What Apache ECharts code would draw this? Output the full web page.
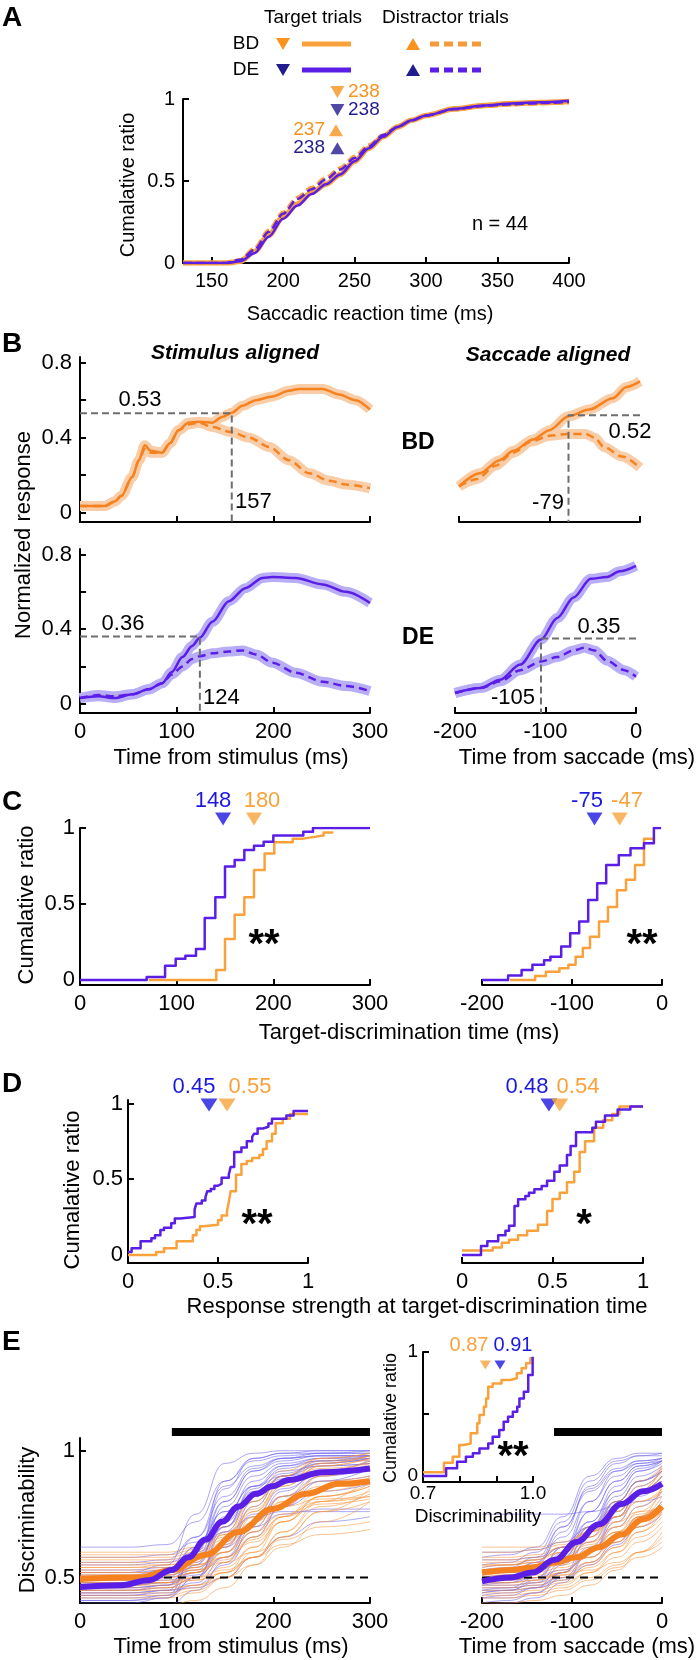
<!DOCTYPE html>
<html><head><meta charset="utf-8">
<script src="https://cdn.jsdelivr.net/npm/echarts@6/dist/echarts.min.js"></script>
<style>html,body{margin:0;padding:0;background:#fff}#c{width:696px;height:1660px}</style>
</head><body><div id="c"></div>
<script>
// ================= DATA =================
// Panel A: cumulative distributions of saccadic reaction time
const rtX = [130,150,160,170,180,190,200,210,220,230,240,250,260,270,280,290,300,320,340,360,380,400];
const rtBDTarget = [0,0,0,0.01,0.07,0.17,0.28,0.36,0.43,0.48,0.54,0.62,0.7,0.77,0.83,0.87,0.9,0.94,0.96,0.972,0.978,0.985];
const rtDETarget = [0,0,0,0.01,0.06,0.16,0.27,0.35,0.42,0.48,0.54,0.62,0.7,0.77,0.83,0.87,0.9,0.94,0.96,0.973,0.98,0.99];
const rtBDDistr  = [0,0,0,0.02,0.09,0.2,0.31,0.4,0.46,0.52,0.58,0.65,0.72,0.78,0.83,0.87,0.9,0.935,0.955,0.965,0.972,0.978];
const rtDEDistr  = [0,0,0,0.02,0.08,0.19,0.3,0.39,0.45,0.51,0.57,0.64,0.71,0.78,0.83,0.87,0.9,0.938,0.958,0.968,0.975,0.982];
const rtMedians = {bdTarget:238, deTarget:238, bdDistr:237, deDistr:238};
const nNeurons = 44;

// Panel B: normalized responses
const bdStimTX = [0,26,36,43,54,61,67,73,85,93,102,112,123,137,147,157,168,182,199,216,227,251,268,285,300];
const bdStimT  = [0.036,0.036,0.06,0.09,0.19,0.28,0.36,0.33,0.32,0.37,0.44,0.48,0.485,0.48,0.51,0.533,0.57,0.6,0.62,0.65,0.66,0.66,0.63,0.6,0.55];
const bdStimDX = [0,26,36,43,54,61,67,73,85,93,102,112,123,137,156,175,196,216,237,258,275,300];
const bdStimD  = [0.036,0.036,0.06,0.09,0.19,0.28,0.34,0.32,0.32,0.37,0.44,0.47,0.48,0.457,0.43,0.4,0.35,0.28,0.21,0.17,0.15,0.13];
const bdSacTX = [-200,-177,-155,-140,-118,-100,-79,-56,-30,-15,0];
const bdSacT  = [0.14,0.21,0.28,0.33,0.39,0.44,0.514,0.55,0.61,0.67,0.7];
const bdSacDX = [-200,-180,-160,-140,-120,-100,-80,-60,-50,-40,-20,0];
const bdSacD  = [0.14,0.18,0.25,0.32,0.38,0.41,0.42,0.42,0.4,0.35,0.3,0.24];
const deStimTX = [0,19,36,54,71,85,95,106,116,124,137,154,171,189,199,223,251,275,300];
const deStimT  = [0.03,0.04,0.03,0.05,0.077,0.11,0.17,0.25,0.31,0.354,0.44,0.55,0.62,0.675,0.68,0.675,0.64,0.6,0.54];
const deStimDX = [0,19,36,54,71,85,95,106,116,124,137,154,168,182,199,223,251,275,300];
const deStimD  = [0.03,0.046,0.04,0.05,0.077,0.11,0.157,0.2,0.24,0.255,0.27,0.28,0.286,0.264,0.22,0.166,0.118,0.095,0.068];
const deSacTX = [-200,-172,-150,-128,-105,-87,-69,-50,-32,-18,0];
const deSacT  = [0.057,0.084,0.129,0.21,0.344,0.46,0.57,0.67,0.68,0.71,0.74];
const deSacDX = [-200,-172,-150,-128,-105,-87,-69,-57,-46,-32,-13,0];
const deSacD  = [0.057,0.084,0.12,0.18,0.226,0.25,0.286,0.3,0.286,0.23,0.18,0.145];
const discr = {bdStim:[157,0.53], bdSac:[-79,0.52], deStim:[124,0.36], deSac:[-105,0.35]};

// Panel C: target-discrimination time CDFs
const cStimBlueX = [0,69,88,99,109,120,129,140,150,160,170,180,190,200,231,241,300];
const cStimBlueY = [0,0.02,0.094,0.14,0.16,0.204,0.408,0.544,0.746,0.79,0.855,0.884,0.91,0.95,0.976,1,1];
const cStimOrX = [71,141,150,160,170,180,191,201,220,231,241,252,262];
const cStimOrY = [0,0.066,0.27,0.43,0.544,0.724,0.833,0.906,0.93,0.94,0.95,0.97,0.97];
const cSacBlueX = [-200,-171,-156,-144,-131,-124,-112,-102,-92,-82,-72,-62,-48,-35,-20,-9,-1];
const cSacBlueY = [0,0.03,0.066,0.1,0.13,0.153,0.22,0.307,0.384,0.526,0.636,0.757,0.82,0.867,0.9,1,1];
const cSacOrX = [-169,-141,-129,-114,-104,-96,-88,-80,-70,-60,-50,-40,-30,-20,-9];
const cSacOrY = [0,0.026,0.055,0.078,0.1,0.153,0.21,0.285,0.384,0.48,0.59,0.66,0.757,0.93,0.93];
const cMed = {stimBlue:148, stimOr:180, sacBlue:-75, sacOr:-47};

// Panel D: response strength CDFs
const dStimBlueX = [0,0.02,0.07,0.13,0.15,0.18,0.2,0.24,0.26,0.29,0.37,0.38,0.41,0.43,0.44,0.46,0.48,0.5,0.52,0.56,0.57,0.59,0.63,0.66,0.69,0.7,0.72,0.75,0.78,0.8,0.88,0.92,1.0];
const dStimBlueY = [0.02,0.045,0.09,0.11,0.13,0.165,0.18,0.21,0.24,0.25,0.3,0.34,0.36,0.38,0.42,0.435,0.457,0.47,0.51,0.53,0.58,0.68,0.71,0.75,0.78,0.8,0.835,0.846,0.868,0.9,0.92,0.95,0.95];
const dStimOrX = [0,0.157,0.2,0.27,0.36,0.38,0.4,0.42,0.5,0.52,0.55,0.56,0.57,0.6,0.63,0.66,0.69,0.73,0.75,0.77,0.8,0.82,0.86,0.9,1.0];
const dStimOrY = [0,0.02,0.044,0.09,0.13,0.165,0.19,0.2,0.23,0.26,0.29,0.35,0.42,0.53,0.6,0.62,0.64,0.66,0.7,0.75,0.8,0.87,0.9,0.93,0.93];
const dSacBlueX = [0,0.105,0.14,0.2,0.24,0.26,0.29,0.31,0.35,0.37,0.4,0.44,0.47,0.51,0.54,0.58,0.6,0.63,0.72,0.74,0.79,0.86,0.93,1.0];
const dSacBlueY = [0,0.06,0.09,0.13,0.16,0.193,0.324,0.368,0.39,0.41,0.434,0.456,0.49,0.55,0.59,0.66,0.72,0.81,0.84,0.88,0.92,0.96,0.98,0.98];
const dSacOrX = [0,0.17,0.22,0.26,0.31,0.36,0.42,0.47,0.5,0.54,0.58,0.62,0.65,0.68,0.73,0.78,0.83,0.87,1.0];
const dSacOrY = [0.03,0.05,0.08,0.1,0.13,0.16,0.2,0.29,0.37,0.41,0.48,0.55,0.68,0.75,0.84,0.89,0.93,0.98,0.98];
const dMed = {stimBlue:0.45, stimOr:0.55, sacBlue:0.48, sacOr:0.54};

// Panel E: discriminability
const eStimX = [0,50,90,120,150,180,210,250,300];
const eSacX = [-200,-170,-140,-110,-80,-50,-25,0];
const eStimBlueThin = [
 [0.45,0.45,0.47,0.6,0.85,0.97,0.99,1,1],[0.5,0.5,0.52,0.62,0.8,0.92,0.97,0.99,1],[0.42,0.42,0.43,0.5,0.7,0.86,0.94,0.97,0.98],
 [0.62,0.62,0.63,0.72,0.88,0.96,0.98,0.99,0.99],[0.48,0.48,0.5,0.58,0.72,0.84,0.91,0.95,0.97],[0.44,0.44,0.45,0.48,0.58,0.72,0.84,0.92,0.96],
 [0.52,0.52,0.55,0.75,0.95,0.99,1,1,1],[0.46,0.46,0.47,0.52,0.63,0.75,0.85,0.91,0.94],[0.4,0.4,0.42,0.55,0.78,0.9,0.95,0.97,0.97],
 [0.55,0.55,0.56,0.6,0.68,0.74,0.76,0.76,0.76],[0.47,0.47,0.48,0.56,0.74,0.88,0.94,0.96,0.96],[0.43,0.43,0.44,0.47,0.55,0.66,0.78,0.88,0.93],
 [0.5,0.5,0.51,0.54,0.62,0.7,0.75,0.77,0.77],[0.41,0.41,0.43,0.6,0.88,0.97,0.99,0.99,0.99],[0.49,0.49,0.5,0.53,0.64,0.8,0.9,0.95,0.97],
 [0.45,0.45,0.46,0.5,0.62,0.78,0.9,0.96,0.98],[0.58,0.58,0.59,0.64,0.76,0.86,0.92,0.94,0.95],[0.44,0.44,0.45,0.46,0.5,0.58,0.66,0.72,0.74],
 [0.51,0.51,0.53,0.66,0.86,0.94,0.97,0.98,0.98],[0.46,0.46,0.47,0.55,0.7,0.82,0.89,0.92,0.93],[0.38,0.38,0.39,0.45,0.56,0.7,0.82,0.9,0.93],
 [0.53,0.53,0.54,0.58,0.7,0.85,0.93,0.96,0.97],[0.48,0.48,0.49,0.52,0.6,0.72,0.82,0.88,0.9],[0.43,0.43,0.45,0.58,0.8,0.92,0.96,0.98,0.98],
 [0.41,0.41,0.42,0.5,0.68,0.82,0.9,0.94,0.95],[0.56,0.56,0.57,0.66,0.82,0.93,0.97,0.98,0.98],[0.47,0.47,0.48,0.51,0.58,0.68,0.78,0.84,0.87],
 [0.52,0.52,0.53,0.62,0.76,0.86,0.9,0.92,0.92]
];
const eStimOrThin = [
 [0.5,0.5,0.5,0.52,0.58,0.68,0.8,0.9,0.95],[0.55,0.55,0.55,0.57,0.63,0.72,0.8,0.86,0.88],[0.47,0.47,0.47,0.49,0.54,0.62,0.72,0.82,0.87],
 [0.6,0.6,0.6,0.62,0.7,0.8,0.88,0.93,0.95],[0.45,0.45,0.46,0.5,0.6,0.74,0.86,0.94,0.97],[0.52,0.52,0.52,0.53,0.56,0.6,0.65,0.7,0.72],
 [0.48,0.48,0.48,0.5,0.56,0.66,0.78,0.9,0.97],[0.57,0.57,0.57,0.59,0.65,0.74,0.82,0.88,0.9],[0.43,0.43,0.43,0.45,0.5,0.58,0.68,0.78,0.83],
 [0.51,0.51,0.52,0.56,0.67,0.8,0.9,0.96,0.98],[0.54,0.54,0.54,0.55,0.58,0.64,0.72,0.8,0.84],[0.46,0.46,0.46,0.47,0.5,0.55,0.62,0.72,0.8],
 [0.5,0.5,0.51,0.54,0.64,0.78,0.9,0.97,0.99],[0.58,0.58,0.58,0.6,0.66,0.76,0.86,0.94,0.97],[0.44,0.44,0.44,0.46,0.52,0.62,0.74,0.84,0.88],
 [0.53,0.53,0.53,0.55,0.6,0.68,0.75,0.8,0.82],[0.49,0.49,0.49,0.5,0.53,0.58,0.66,0.76,0.85],[0.47,0.47,0.48,0.52,0.62,0.76,0.88,0.95,0.98],
 [0.56,0.56,0.56,0.58,0.64,0.72,0.78,0.81,0.82],[0.42,0.42,0.42,0.44,0.5,0.6,0.72,0.82,0.86],[0.5,0.5,0.5,0.52,0.57,0.65,0.74,0.82,0.86],
 [0.52,0.52,0.52,0.54,0.6,0.7,0.82,0.92,0.96],[0.45,0.45,0.45,0.47,0.52,0.58,0.63,0.67,0.69],[0.54,0.54,0.55,0.58,0.68,0.82,0.92,0.97,0.99],
 [0.39,0.39,0.39,0.41,0.46,0.55,0.66,0.76,0.8],[0.59,0.59,0.59,0.61,0.67,0.77,0.87,0.95,0.98],[0.51,0.51,0.51,0.53,0.58,0.66,0.74,0.79,0.81],
 [0.48,0.48,0.48,0.49,0.52,0.58,0.68,0.8,0.9]
];
const eSacBlueThin = [
 [0.48,0.48,0.5,0.58,0.72,0.86,0.93,0.96],[0.45,0.46,0.5,0.62,0.8,0.92,0.96,0.97],[0.52,0.52,0.53,0.56,0.64,0.76,0.86,0.92],
 [0.6,0.6,0.61,0.64,0.7,0.78,0.84,0.88],[0.42,0.43,0.46,0.55,0.7,0.84,0.92,0.95],[0.5,0.51,0.55,0.68,0.86,0.95,0.98,0.99],
 [0.47,0.47,0.48,0.52,0.6,0.7,0.78,0.84],[0.44,0.45,0.48,0.56,0.68,0.8,0.88,0.92],[0.55,0.56,0.6,0.72,0.88,0.96,0.98,0.98],
 [0.49,0.49,0.5,0.53,0.58,0.66,0.74,0.8],[0.4,0.41,0.44,0.52,0.66,0.8,0.88,0.92],[0.53,0.54,0.58,0.7,0.84,0.92,0.95,0.96],
 [0.46,0.46,0.47,0.5,0.56,0.64,0.72,0.78],[0.51,0.52,0.56,0.66,0.8,0.9,0.95,0.97],[0.43,0.44,0.46,0.52,0.62,0.74,0.84,0.9],
 [0.57,0.57,0.58,0.62,0.7,0.8,0.88,0.93],[0.48,0.5,0.56,0.7,0.85,0.93,0.96,0.97],[0.45,0.45,0.46,0.49,0.55,0.63,0.7,0.75],
 [0.5,0.5,0.52,0.58,0.7,0.82,0.9,0.94],[0.42,0.42,0.44,0.5,0.6,0.72,0.82,0.88],[0.54,0.55,0.57,0.62,0.72,0.84,0.92,0.96],
 [0.47,0.48,0.52,0.62,0.76,0.88,0.94,0.96],[0.75,0.75,0.75,0.75,0.76,0.78,0.8,0.82],[0.44,0.45,0.49,0.6,0.76,0.88,0.94,0.96],
 [0.39,0.4,0.42,0.48,0.6,0.74,0.84,0.9],[0.58,0.59,0.62,0.74,0.9,0.97,0.99,0.99]
];
const eSacOrThin = [
 [0.5,0.5,0.51,0.53,0.58,0.66,0.74,0.82],[0.55,0.55,0.56,0.58,0.63,0.7,0.78,0.85],[0.47,0.47,0.48,0.5,0.55,0.62,0.7,0.78],
 [0.52,0.53,0.55,0.6,0.68,0.78,0.86,0.92],[0.45,0.45,0.46,0.48,0.52,0.58,0.64,0.7],[0.58,0.58,0.59,0.62,0.68,0.76,0.84,0.9],
 [0.49,0.49,0.5,0.52,0.56,0.62,0.68,0.74],[0.53,0.53,0.54,0.57,0.64,0.74,0.84,0.93],[0.43,0.43,0.44,0.46,0.5,0.55,0.6,0.66],
 [0.56,0.56,0.57,0.6,0.66,0.74,0.8,0.84],[0.48,0.48,0.49,0.52,0.6,0.72,0.84,0.94],[0.51,0.51,0.52,0.54,0.58,0.64,0.7,0.76],
 [0.46,0.46,0.47,0.49,0.54,0.6,0.66,0.72],[0.6,0.6,0.61,0.63,0.68,0.74,0.8,0.85],[0.5,0.5,0.5,0.51,0.53,0.56,0.6,0.64],
 [0.54,0.55,0.57,0.62,0.7,0.8,0.88,0.94],[0.44,0.44,0.45,0.47,0.52,0.6,0.68,0.76],[0.52,0.52,0.53,0.55,0.6,0.68,0.76,0.84],
 [0.57,0.57,0.58,0.6,0.64,0.7,0.75,0.79],[0.48,0.48,0.49,0.51,0.56,0.64,0.74,0.86],[0.42,0.42,0.43,0.45,0.49,0.54,0.58,0.62],
 [0.53,0.53,0.54,0.56,0.61,0.68,0.74,0.8],[0.5,0.51,0.53,0.58,0.66,0.76,0.84,0.9],[0.55,0.55,0.56,0.58,0.62,0.68,0.72,0.76],
 [0.62,0.62,0.62,0.64,0.68,0.72,0.76,0.78],[0.4,0.4,0.41,0.43,0.47,0.53,0.6,0.68]
];
const eStimBlueMeanX = [0,43,71,95,112,130,147,164,182,199,216,251,300];
const eStimBlueMean  = [0.463,0.47,0.49,0.53,0.58,0.65,0.72,0.78,0.83,0.86,0.885,0.915,0.93];
const eStimOrMeanX = [0,61,95,130,164,199,234,268,300];
const eStimOrMean  = [0.495,0.5,0.53,0.59,0.68,0.77,0.83,0.87,0.88];
const eSacMeanX = [-200,-168,-144,-119,-95,-70,-45,-21,0];
const eSacBlueMean = [0.485,0.5,0.52,0.57,0.64,0.71,0.79,0.84,0.87];
const eSacOrMean   = [0.52,0.53,0.54,0.56,0.58,0.62,0.67,0.73,0.78];
const eSigStim = [95,300];
const eSigSac = [-120,0];
// inset: peak discriminability CDF
const insOrX = [0.7,0.757,0.781,0.799,0.811,0.83,0.848,0.854,0.866,0.872,0.878,0.89,0.914,0.938,0.956,0.969,0.981,0.993,1.0];
const insOrY = [0.03,0.107,0.156,0.25,0.263,0.344,0.425,0.492,0.559,0.626,0.72,0.747,0.774,0.788,0.828,0.868,0.909,0.949,0.949];
const insBlueX = [0.7,0.763,0.793,0.817,0.836,0.854,0.878,0.89,0.908,0.92,0.932,0.945,0.957,0.963,0.975,0.987,0.999];
const insBlueY = [0,0.062,0.116,0.156,0.183,0.223,0.263,0.317,0.371,0.438,0.478,0.519,0.559,0.626,0.68,0.815,0.962];
const insMed = {or:0.87, blue:0.91};

// ================= STYLE / LAYOUT =================
const F = "'Liberation Sans', Arial, Helvetica, sans-serif";
const COL = {
  orange:'#F5821F', orangeLt:'#F9A23C', blue:'#5A1EE6', navy:'#231C8E', ablue:'#1C18DE',
  bandO:'#F9CDA8', bandB:'#B9AEF6', thinB:'rgba(105,95,238,0.55)', thinO:'rgba(247,145,55,0.55)', gray:'#6E6E6E'
};
const pairs = (xs, ys) => xs.map((x, i) => [x, ys[i]]);

const grids = [
 {left:183, top:99,  width:386, height:164},  //0 A
 {left:80,  top:357, width:290, height:165},  //1 B TL
 {left:459, top:357, width:181, height:165},  //2 B TR
 {left:80,  top:549, width:290, height:164},  //3 B BL
 {left:455, top:549, width:181, height:164},  //4 B BR
 {left:80,  top:828, width:290, height:157},  //5 C L
 {left:482, top:828, width:180, height:157},  //6 C R
 {left:128, top:1100,width:180, height:163},  //7 D L
 {left:462, top:1100,width:181, height:163},  //8 D R
 {left:80,  top:1438,width:290, height:165},  //9 E L
 {left:482, top:1438,width:180, height:165},  //10 E R
 {left:423, top:1352,width:110, height:130}   //11 inset
];

function xAx(gi, min, max, ticks, labels, fs, fmt, margin) {
  return {type:'value', gridIndex:gi, min, max, position:'bottom',
    axisLine:{show:true, onZero:false, lineStyle:{color:'#000', width:2}},
    axisTick:{show:true, inside:true, length:6, lineStyle:{color:'#000', width:2}, customValues:ticks},
    axisLabel:{show: !!labels, customValues: labels || [], margin: margin || 8, color:'#000', fontSize:fs||22, fontFamily:F, formatter: fmt},
    splitLine:{show:false}};
}
function yAx(gi, min, max, ticks, labels, fs, margin) {
  if (!ticks) return {type:'value', gridIndex:gi, min, max, show:false};
  return {type:'value', gridIndex:gi, min, max, position:'left',
    axisLine:{show:true, onZero:false, lineStyle:{color:'#000', width:2}},
    axisTick:{show:true, inside:true, length:6, lineStyle:{color:'#000', width:2}, customValues:ticks},
    axisLabel:{show:true, customValues:labels, margin: margin||7, color:'#000', fontSize:fs||22, fontFamily:F},
    splitLine:{show:false}};
}

const xAxes = [
  xAx(0, 130, 400, [150,200,250,300,350,400], [150,200,250,300,350,400], 20),
  xAx(1, 0, 300, [0,100,200,300], null),
  xAx(2, -200, 0, [-200,-100,0], null),
  xAx(3, 0, 300, [0,100,200,300], [0,100,200,300]),
  xAx(4, -200, 0, [-200,-100,0], [-200,-100,0]),
  xAx(5, 0, 300, [0,100,200,300], [0,100,200,300]),
  xAx(6, -200, 0, [-200,-100,0], [-200,-100,0]),
  xAx(7, 0, 1, [0,0.5,1], [0,0.5,1]),
  xAx(8, 0, 1, [0,0.5,1], [0,0.5,1]),
  xAx(9, 0, 300, [0,100,200,300], [0,100,200,300]),
  xAx(10, -200, 0, [-200,-100,0], [-200,-100,0]),
  xAx(11, 0.7, 1.0, [0.8,0.9,1.0], [0.7,1.0], 19, v => v.toFixed(1), 2)
];
const yAxes = [
  yAx(0, 0, 1, [0,0.5,1], [0,0.5,1], 20, 8),
  yAx(1, -0.05, 0.83, [0,0.2,0.4,0.6,0.8], [0,0.4,0.8], 22, 8),
  yAx(2, -0.05, 0.83),
  yAx(3, -0.05, 0.83, [0,0.2,0.4,0.6,0.8], [0,0.4,0.8], 22, 8),
  yAx(4, -0.05, 0.83),
  yAx(5, -0.033, 1, [0,0.5,1], [0,0.5,1], 22, 5),
  yAx(6, -0.033, 1),
  yAx(7, -0.053, 1.023, [0,0.5,1], [0,0.5,1], 22, 5),
  yAx(8, -0.053, 1.023),
  yAx(9, 0.4, 1.05, [0.5,1], [0.5,1], 22, 5),
  yAx(10, 0.4, 1.05),
  yAx(11, -0.048, 1, [0,0.5,1], [0,1], 19, 5)
];

const series = [];
function ln(gi, data, color, width, o) {
  o = o || {};
  const s = {type:'line', xAxisIndex:gi, yAxisIndex:gi, data, symbol:'none', silent:true,
    lineStyle:{color, width, type: o.dash || 'solid', cap:'butt', join:'round'}, z: o.z || 2};
  if (o.smooth) { s.smooth = o.smooth; s.smoothMonotone = 'x'; }
  if (o.step) s.step = o.step;
  if (o.clip === false) s.clip = false;
  series.push(s);
}
function tri(gi, x, y, color, down, size) {
  series.push({type:'scatter', xAxisIndex:gi, yAxisIndex:gi, data:[[x, y]], symbol:'triangle',
    symbolRotate: down ? 180 : 0, symbolSize: size, itemStyle:{color}, clip:false, silent:true, z:6});
}

// ---- A ----
ln(0, pairs(rtX, rtBDTarget), COL.orangeLt, 5.5, {smooth:0.3});
ln(0, pairs(rtX, rtBDDistr), COL.orangeLt, 3.5, {smooth:0.3, dash:[9,4]});
ln(0, pairs(rtX, rtDETarget), COL.blue, 2.5, {smooth:0.3, z:3});
ln(0, pairs(rtX, rtDEDistr), COL.blue, 2.5, {smooth:0.3, dash:[9,4], z:3});
tri(0, rtMedians.bdTarget, 1.043, '#F7931E', true, [14,12]);
tri(0, rtMedians.deTarget, 0.933, COL.navy, true, [14,12]);
tri(0, rtMedians.bdDistr, 0.81, '#F7931E', false, [14,12]);
tri(0, rtMedians.deDistr, 0.70, COL.navy, false, [14,12]);

// ---- B ----
const bandW = 10;
ln(1, pairs(bdStimTX, bdStimT), COL.bandO, bandW, {smooth:0.3, z:1});
ln(1, pairs(bdStimDX, bdStimD), COL.bandO, bandW, {smooth:0.3, z:1});
ln(1, pairs(bdStimDX, bdStimD), COL.orange, 2.5, {smooth:0.3, dash:[8,5]});
ln(1, pairs(bdStimTX, bdStimT), COL.orange, 2.5, {smooth:0.3});
ln(2, pairs(bdSacTX, bdSacT), COL.bandO, bandW, {smooth:0.3, z:1});
ln(2, pairs(bdSacDX, bdSacD), COL.bandO, bandW, {smooth:0.3, z:1});
ln(2, pairs(bdSacDX, bdSacD), COL.orange, 2.5, {smooth:0.3, dash:[8,5]});
ln(2, pairs(bdSacTX, bdSacT), COL.orange, 2.5, {smooth:0.3});
ln(3, pairs(deStimTX, deStimT), COL.bandB, bandW, {smooth:0.3, z:1});
ln(3, pairs(deStimDX, deStimD), COL.bandB, bandW, {smooth:0.3, z:1});
ln(3, pairs(deStimDX, deStimD), COL.blue, 2.5, {smooth:0.3, dash:[8,5]});
ln(3, pairs(deStimTX, deStimT), COL.blue, 2.5, {smooth:0.3});
ln(4, pairs(deSacTX, deSacT), COL.bandB, bandW, {smooth:0.3, z:1});
ln(4, pairs(deSacDX, deSacD), COL.bandB, bandW, {smooth:0.3, z:1});
ln(4, pairs(deSacDX, deSacD), COL.blue, 2.5, {smooth:0.3, dash:[8,5]});
ln(4, pairs(deSacTX, deSacT), COL.blue, 2.5, {smooth:0.3});
const guide = (gi, x0, pt, ymin) => ln(gi, [[x0, pt[1]], [pt[0], pt[1]], [pt[0], ymin]], COL.gray, 2, {dash:[7,4], z:4});
guide(1, 0, discr.bdStim, -0.05);
guide(2, 0, discr.bdSac, -0.05);
guide(3, 0, discr.deStim, -0.05);
guide(4, 0, discr.deSac, -0.05);

// ---- C ----
ln(5, pairs(cStimOrX, cStimOrY), COL.orangeLt, 2.5, {step:'end'});
ln(5, pairs(cStimBlueX, cStimBlueY), COL.blue, 2.5, {step:'end', z:3});
ln(6, pairs(cSacOrX, cSacOrY), COL.orangeLt, 2.5, {step:'end'});
ln(6, pairs(cSacBlueX, cSacBlueY), COL.blue, 2.5, {step:'end', z:3});
tri(5, cMed.stimBlue, 1.059, COL.ablue, true, [16,13]);
tri(5, cMed.stimOr, 1.059, COL.orangeLt, true, [16,13]);
tri(6, cMed.sacBlue, 1.059, COL.ablue, true, [16,13]);
tri(6, cMed.sacOr, 1.059, COL.orangeLt, true, [16,13]);

// ---- D ----
ln(7, pairs(dStimOrX, dStimOrY), COL.orangeLt, 2.5, {step:'end'});
ln(7, pairs(dStimBlueX, dStimBlueY), COL.blue, 2.5, {step:'end', z:3});
ln(8, pairs(dSacOrX, dSacOrY), COL.orangeLt, 2.5, {step:'end'});
ln(8, pairs(dSacBlueX, dSacBlueY), COL.blue, 2.5, {step:'end', z:3});
tri(7, dMed.stimBlue, 0.99, COL.ablue, true, [17,13]);
tri(7, dMed.stimOr, 0.99, COL.orangeLt, true, [17,13]);
tri(8, dMed.sacBlue, 0.99, COL.ablue, true, [17,13]);
tri(8, dMed.sacOr, 0.99, COL.orangeLt, true, [17,13]);

// ---- E ----
eStimBlueThin.forEach(c => ln(9, pairs(eStimX, c), COL.thinB, 1, {smooth:0.5, z:1}));
eStimOrThin.forEach(c => ln(9, pairs(eStimX, c), COL.thinO, 1, {smooth:0.5, z:1}));
eSacBlueThin.forEach(c => ln(10, pairs(eSacX, c), COL.thinB, 1, {smooth:0.5, z:1}));
eSacOrThin.forEach(c => ln(10, pairs(eSacX, c), COL.thinO, 1, {smooth:0.5, z:1}));
ln(9, [[0,0.5],[300,0.5]], '#000', 2, {dash:[8,6], z:2});
ln(10, [[-200,0.5],[0,0.5]], '#000', 2, {dash:[8,6], z:2});
ln(9, pairs(eStimOrMeanX, eStimOrMean), COL.orange, 6, {smooth:0.4, z:3});
ln(9, pairs(eStimBlueMeanX, eStimBlueMean), COL.blue, 6, {smooth:0.4, z:4});
ln(10, pairs(eSacMeanX, eSacOrMean), COL.orange, 6, {smooth:0.4, z:3});
ln(10, pairs(eSacMeanX, eSacBlueMean), COL.blue, 6, {smooth:0.4, z:4});
ln(9, [[eSigStim[0],1.074],[eSigStim[1],1.074]], '#000', 8, {clip:false, z:5});
ln(10, [[eSigSac[0],1.074],[eSigSac[1],1.074]], '#000', 8, {clip:false, z:5});
ln(11, pairs(insOrX, insOrY), COL.orangeLt, 2.5, {step:'end'});
ln(11, pairs(insBlueX, insBlueY), COL.blue, 2.5, {step:'end', z:3});
tri(11, insMed.or, 0.895, COL.orangeLt, true, [11,9]);
tri(11, insMed.blue, 0.895, COL.ablue, true, [11,9]);

// ================= TEXT / LEGEND GRAPHICS =================
function txt(x, y, text, o) {
  o = o || {};
  return {type:'text', x, y, rotation: o.rot || 0, silent:true, z:100,
    style:{text, fill: o.color || '#000', font: o.font || ('22px ' + F),
      align: o.align || 'center', verticalAlign: o.va || 'middle',
      textAlign: o.align || 'center', textVerticalAlign: o.va || 'middle'}};
}
const f = (sz, w) => (w ? w + ' ' : '') + sz + 'px ' + F;
const R = Math.PI / 2;
const gfx = [
  // panel letters
  txt(2, 18, 'A', {font:f(28,'bold'), align:'left'}),
  txt(2, 344, 'B', {font:f(28,'bold'), align:'left'}),
  txt(2, 802, 'C', {font:f(28,'bold'), align:'left'}),
  txt(2, 1084, 'D', {font:f(28,'bold'), align:'left'}),
  txt(2, 1342, 'E', {font:f(28,'bold'), align:'left'}),
  // A legend
  txt(313, 18, 'Target trials', {font:f(19)}),
  txt(382, 18, 'Distractor trials', {font:f(19), align:'left'}),
  txt(246, 44, 'BD', {font:f(19)}),
  txt(246, 70, 'DE', {font:f(19)}),
  {type:'polygon', silent:true, shape:{points:[[276,38],[290,38],[283,50]]}, style:{fill:'#F7931E'}},
  {type:'polygon', silent:true, shape:{points:[[276,64],[290,64],[283,76]]}, style:{fill:COL.navy}},
  {type:'polygon', silent:true, shape:{points:[[406,50],[420,50],[413,38]]}, style:{fill:'#F7931E'}},
  {type:'polygon', silent:true, shape:{points:[[406,76],[420,76],[413,64]]}, style:{fill:COL.navy}},
  {type:'line', silent:true, shape:{x1:302,y1:44,x2:351,y2:44}, style:{stroke:COL.orangeLt, lineWidth:5}},
  {type:'line', silent:true, shape:{x1:302,y1:70,x2:351,y2:70}, style:{stroke:COL.blue, lineWidth:5}},
  {type:'line', silent:true, shape:{x1:430,y1:44,x2:483,y2:44}, style:{stroke:'#F59A3A', lineWidth:5, lineDash:[9,5]}},
  {type:'line', silent:true, shape:{x1:430,y1:70,x2:483,y2:70}, style:{stroke:COL.blue, lineWidth:5, lineDash:[9,5]}},
  // A annotations
  txt(348, 92, String(rtMedians.bdTarget), {font:f(19), color:'#F7931E', align:'left'}),
  txt(348, 110, String(rtMedians.deTarget), {font:f(19), color:COL.navy, align:'left'}),
  txt(325, 130, String(rtMedians.bdDistr), {font:f(19), color:'#F7931E', align:'right'}),
  txt(325, 148, String(rtMedians.deDistr), {font:f(19), color:COL.navy, align:'right'}),
  txt(500, 224, 'n = ' + nNeurons, {font:f(20)}),
  txt(370, 314, 'Saccadic reaction time (ms)', {font:f(20)}),
  txt(128, 185, 'Cumalative ratio', {font:f(20), rot:R}),
  // B
  txt(235, 353, 'Stimulus aligned', {font:f(21,'italic bold')}),
  txt(548, 355, 'Saccade aligned', {font:f(21,'italic bold')}),
  txt(418, 443, 'BD', {font:f(23,'bold')}),
  txt(418, 638, 'DE', {font:f(23,'bold')}),
  txt(140, 400, String(discr.bdStim[1]), {font:f(22)}),
  txt(235, 502, String(discr.bdStim[0]), {font:f(22), align:'left'}),
  txt(630, 432, String(discr.bdSac[1]), {font:f(22)}),
  txt(548, 503, String(discr.bdSac[0]), {font:f(22)}),
  txt(123, 624, String(discr.deStim[1]), {font:f(22)}),
  txt(203, 698, String(discr.deStim[0]), {font:f(22), align:'left'}),
  txt(599, 627, String(discr.deSac[1]), {font:f(22)}),
  txt(513, 698, String(discr.deSac[0]), {font:f(22)}),
  txt(24, 535, 'Normalized response', {font:f(22), rot:R}),
  txt(231, 758, 'Time from stimulus (ms)', {font:f(22)}),
  txt(577, 758, 'Time from saccade (ms)', {font:f(22)}),
  // C
  txt(213, 801, String(cMed.stimBlue), {font:f(22), color:COL.ablue}),
  txt(262, 801, String(cMed.stimOr), {font:f(22), color:COL.orangeLt}),
  txt(587, 801, String(cMed.sacBlue), {font:f(22), color:COL.ablue}),
  txt(627, 801, String(cMed.sacOr), {font:f(22), color:COL.orangeLt}),
  txt(264, 946, '**', {font:f(40,'bold')}),
  txt(642, 946, '**', {font:f(40,'bold')}),
  txt(27, 905, 'Cumalative ratio', {font:f(22), rot:R}),
  txt(409, 1033, 'Target-discrimination time (ms)', {font:f(22)}),
  // D
  txt(194, 1087, dMed.stimBlue.toFixed(2), {font:f(22), color:COL.ablue}),
  txt(250, 1087, dMed.stimOr.toFixed(2), {font:f(22), color:COL.orangeLt}),
  txt(527, 1087, dMed.sacBlue.toFixed(2), {font:f(22), color:COL.ablue}),
  txt(578, 1087, dMed.sacOr.toFixed(2), {font:f(22), color:COL.orangeLt}),
  txt(257, 1226, '**', {font:f(40,'bold')}),
  txt(584, 1226, '*', {font:f(40,'bold')}),
  txt(73, 1190, 'Cumalative ratio', {font:f(22), rot:R}),
  txt(417, 1307, 'Response strength at target-discrimination time', {font:f(22)}),
  // E
  txt(469, 1345, insMed.or.toFixed(2), {font:f(20), color:COL.orangeLt}),
  txt(513, 1345, insMed.blue.toFixed(2), {font:f(20), color:COL.ablue}),
  txt(513, 1458, '**', {font:f(40,'bold')}),
  txt(391, 1418, 'Cumalative ratio', {font:f(18), rot:R}),
  txt(478, 1517, 'Discriminability', {font:f(19)}),
  txt(28, 1520, 'Discriminability', {font:f(22), rot:R}),
  txt(231, 1647, 'Time from stimulus (ms)', {font:f(22)}),
  txt(577, 1647, 'Time from saccade (ms)', {font:f(22)})
];

const chart = echarts.init(document.getElementById('c'), null, {renderer:'canvas'});
chart.setOption({
  animation:false,
  backgroundColor:'#fff',
  textStyle:{fontFamily:F},
  grid: grids.map(g => Object.assign({containLabel:false}, g)),
  xAxis: xAxes,
  yAxis: yAxes,
  series,
  graphic: gfx
});
</script>
</body></html>
